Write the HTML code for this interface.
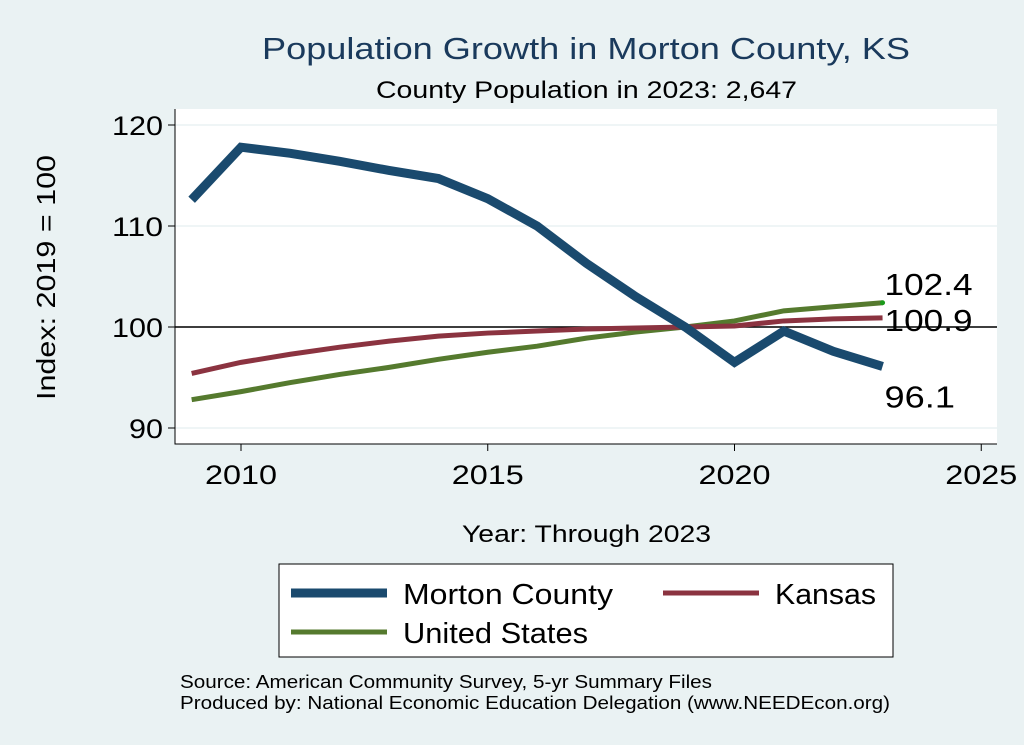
<!DOCTYPE html>
<html><head><meta charset="utf-8"><style>
body{margin:0;background:#eaf2f3;}
svg{display:block;font-family:"Liberation Sans",Arial,sans-serif;}
</style></head><body>
<svg width="1024" height="745" viewBox="0 0 1024 745">
<rect x="0" y="0" width="1024" height="745" fill="#eaf2f3"/>
<text x="262" y="59" font-size="31" fill="#1a3a5c" textLength="648" lengthAdjust="spacingAndGlyphs">Population Growth in Morton County, KS</text>
<text x="376" y="98" font-size="24" fill="#000" textLength="421" lengthAdjust="spacingAndGlyphs">County Population in 2023: 2,647</text>
<rect x="175" y="109" width="822" height="335" fill="#fff"/>
<g id="grid"></g>
<g id="axes"></g>
<g id="series"></g>
<g id="labels"></g>
<text x="55" y="400" font-size="26" transform="rotate(-90 55 400)" textLength="245" lengthAdjust="spacingAndGlyphs">Index: 2019 = 100</text>
<text x="462" y="542" font-size="24" textLength="249" lengthAdjust="spacingAndGlyphs">Year: Through 2023</text>
<g>
<rect x="279" y="564" width="614" height="93" fill="#fff" stroke="#000" stroke-width="1"/>
<line x1="291" y1="593" x2="387" y2="593" stroke="#1a4a6e" stroke-width="9"/>
<text x="403" y="604" font-size="29" textLength="210" lengthAdjust="spacingAndGlyphs">Morton  County</text>
<line x1="663" y1="593" x2="759" y2="593" stroke="#8b3340" stroke-width="5"/>
<text x="775" y="604" font-size="29" textLength="101" lengthAdjust="spacingAndGlyphs">Kansas</text>
<line x1="291" y1="632" x2="387" y2="632" stroke="#557a2e" stroke-width="5"/>
<text x="403" y="643" font-size="29" textLength="185" lengthAdjust="spacingAndGlyphs">United States</text>
</g>
<text x="180" y="688" font-size="18" textLength="532" lengthAdjust="spacingAndGlyphs">Source: American Community Survey, 5-yr Summary Files</text>
<text x="180" y="709" font-size="18" textLength="710" lengthAdjust="spacingAndGlyphs">Produced by: National Economic Education Delegation (www.NEEDEcon.org)</text>
</svg>
<script>
const years=[2009,2010,2011,2012,2013,2014,2015,2016,2017,2018,2019,2020,2021,2022,2023];
const morton=[112.6,117.8,117.2,116.4,115.5,114.7,112.7,110.0,106.3,103.0,100.0,96.5,99.6,97.6,96.1];
const kansas=[95.4,96.5,97.3,98.0,98.6,99.1,99.4,99.6,99.8,99.9,100.0,100.1,100.6,100.8,100.9];
const us=[92.8,93.6,94.5,95.3,96.0,96.8,97.5,98.1,98.9,99.5,100.0,100.6,101.6,102.0,102.4];
const xTicks=[2010,2015,2020,2025];
const yTicks=[90,100,110,120];
const NS='http://www.w3.org/2000/svg';
const X=v=>241+(v-2010)*49.35;
const Y=v=>327-(v-100)*10.1;
function mk(t,a,p){const e=document.createElementNS(NS,t);for(const k in a)e.setAttribute(k,a[k]);p.appendChild(e);return e;}
const grid=document.getElementById('grid'),axes=document.getElementById('axes'),ser=document.getElementById('series'),lab=document.getElementById('labels');
yTicks.forEach(v=>{
 const g=mk('line',{x1:175,x2:997,y1:Y(v),y2:Y(v),stroke:'#eaf2f3','stroke-width':1.5},grid);
 
 
 const t=mk('line',{x1:168,x2:175,y1:Y(v),y2:Y(v),stroke:'#000','stroke-width':1},axes);
 
 
 const s=String(v);
 const w=s.length*17;
 const l=mk('text',{x:163-w,y:Y(v)+10,'font-size':27,textLength:w,lengthAdjust:'spacingAndGlyphs'},axes);l.textContent=s;
 
 
});
xTicks.forEach(v=>{
 const t=mk('line',{x1:X(v),x2:X(v),y1:444,y2:451,stroke:'#000','stroke-width':1},axes);
 
 
 const l=mk('text',{x:X(v)-36,y:484,'font-size':27,textLength:72,lengthAdjust:'spacingAndGlyphs'},axes);l.textContent=v;
 
 
});
const ax=mk('path',{d:'M175,109 V444 H997',fill:'none',stroke:'#000','stroke-width':1},axes);


const ref=mk('line',{x1:175,x2:997,y1:Y(100),y2:Y(100),stroke:'#000','stroke-width':1.5},axes);


function line(d,c,w,n){const p=mk('polyline',{points:d.map((v,i)=>X(years[i])+','+Y(v)).join(' '),fill:'none',stroke:c,'stroke-width':w},ser);
 
 }
line(us,'#557a2e',5,'line-united-states');
line(kansas,'#8b3340',5,'line-kansas');
line(morton,'#1a4a6e',9,'line-morton-county');
const last=years.length-1;
const dot=mk('circle',{cx:X(years[last]),cy:Y(us[last]),r:2.5,fill:'#1a9a1a'},lab);


[[us[last],-8,'label-us-end'],[kansas[last],13,'label-kansas-end'],[morton[last],41,'label-morton-end']].forEach(([v,dy,n])=>{
 const s=v.toFixed(1);
 const t=mk('text',{x:X(years[last])+2,y:Y(v)+dy,'font-size':31,textLength:s.length*17.6,lengthAdjust:'spacingAndGlyphs'},lab);t.textContent=s;
 
 
});
</script>
</body></html>
